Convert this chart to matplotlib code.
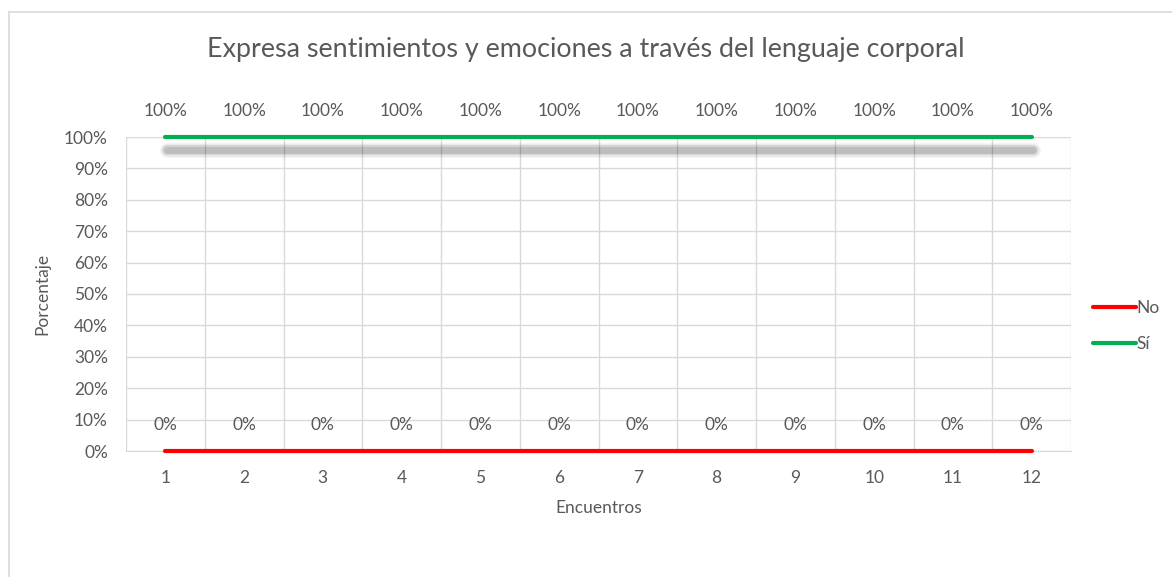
import matplotlib
matplotlib.use("Agg")
import matplotlib.pyplot as plt
import matplotlib.patheffects as pe
from matplotlib.lines import Line2D
from matplotlib.ticker import PercentFormatter

encuentros = [1, 2, 3, 4, 5, 6, 7, 8, 9, 10, 11, 12]
no_vals = [0, 0, 0, 0, 0, 0, 0, 0, 0, 0, 0, 0]
si_vals = [100, 100, 100, 100, 100, 100, 100, 100, 100, 100, 100, 100]
title = "Expresa sentimientos y emociones a través del lenguaje corporal"

plt.rcParams['font.family'] = ['Lato', 'DejaVu Sans']
TXT = '#595959'
GRID = '#D9D9D9'
FS = 12.5

W, H = 1172, 577
fig = plt.figure(figsize=(W / 100, H / 100), dpi=100)
ax = fig.add_axes([126 / W, 1 - 451 / H, (1071 - 126) / W, (451 - 137) / H])

# chart border
fig.add_artist(Line2D([9 / W, 1.0], [1 - 12 / H, 1 - 12 / H], transform=fig.transFigure, color='#D9D9D9', lw=1.2))
fig.add_artist(Line2D([9 / W, 9 / W], [1 - 12 / H, 0], transform=fig.transFigure, color='#D9D9D9', lw=1.2))

ax.set_xlim(0.5, 12.5)
ax.set_ylim(0, 100)
ax.set_yticks(range(0, 101, 10))
ax.yaxis.set_major_formatter(PercentFormatter(decimals=0))
ax.set_xticks(encuentros)
ax.set_xticklabels([str(e) for e in encuentros])
ax.set_xticks([e + 0.5 for e in [0] + encuentros], minor=True)
ax.grid(True, axis='y', color=GRID, lw=1)
ax.grid(True, axis='x', which='minor', color=GRID, lw=1)
ax.tick_params(which='both', length=0)
ax.tick_params(axis='y', pad=13, labelsize=FS, labelcolor=TXT)
ax.tick_params(axis='x', pad=14, labelsize=FS, labelcolor=TXT)
for s in ['top', 'right', 'left']:
    ax.spines[s].set_visible(False)
ax.spines['bottom'].set_color(GRID)
ax.set_axisbelow(True)

shadow = [pe.SimpleLineShadow(offset=(1, -9), shadow_color='black', alpha=a, linewidth=w)
          for a, w in [(0.04, 11), (0.06, 9), (0.08, 7), (0.1, 5)]] + [pe.Normal()]
ax.plot(encuentros, no_vals, color='#FF0000', lw=3, solid_capstyle='round', clip_on=False, zorder=3)
ax.plot(encuentros, si_vals, color='#00B050', lw=3, solid_capstyle='round', clip_on=False,
        path_effects=shadow, zorder=3)

for x, v in zip(encuentros, no_vals):
    ax.annotate(f"{v}%", (x, v), xytext=(0, 19), textcoords='offset points', ha='center', va='center',
                fontsize=FS, color=TXT)
for x, v in zip(encuentros, si_vals):
    ax.annotate(f"{v}%", (x, v), xytext=(0, 19), textcoords='offset points', ha='center', va='center',
                fontsize=FS, color=TXT, annotation_clip=False)

ax.set_xlabel("Encuentros", fontsize=FS, color=TXT, labelpad=10)
ax.set_ylabel("Porcentaje", fontsize=FS, color=TXT, labelpad=10)
fig.text(586 / W, 1 - 50 / H, title, ha='center', va='center', fontsize=19.4, color=TXT)

handles = [Line2D([], [], color='#FF0000', lw=3, solid_capstyle='round'),
           Line2D([], [], color='#00B050', lw=3, solid_capstyle='round')]
leg = fig.legend(handles=handles, labels=['No', 'Sí'], loc='center left',
                 bbox_to_anchor=(1093 / W, 1 - 326 / H), frameon=False, fontsize=FS,
                 borderaxespad=0, borderpad=0,
                 handlelength=2.45, handletextpad=0.05, labelspacing=1.15, labelcolor=TXT)

fig.savefig("out.png", dpi=100, facecolor='white')
